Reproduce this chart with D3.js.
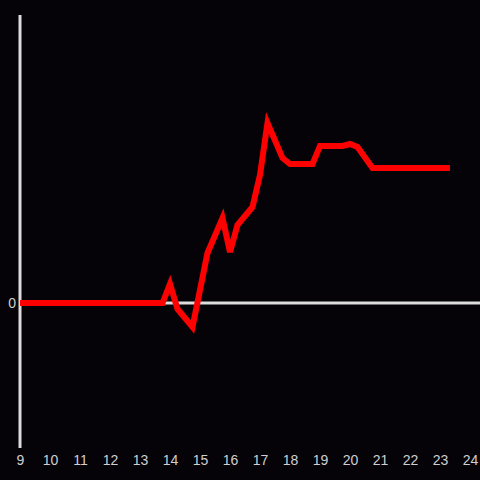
<!DOCTYPE html>
<html>
<head>
<meta charset="utf-8">
<script src="https://cdn.jsdelivr.net/npm/d3@7"></script>
<style>
  html, body { margin: 0; padding: 0; background: #050308; }
  svg { display: block; }
</style>
</head>
<body>
<svg id="chart" width="480" height="480"></svg>
<script>
// hours of day and the measured value at each one
const hours = [9, 13.75, 14, 14.25, 14.75, 15.25, 15.75, 16, 16.25, 16.75, 17, 17.25, 17.75, 18, 18.75, 19, 19.75, 20, 20.25, 20.75, 23.33]
const values = [0, 0, 19, -6, -24, 50, 85, 51, 78, 96, 128, 180, 145, 139, 139, 157, 157, 159, 156, 135, 135]
const xTicks = [9, 10, 11, 12, 13, 14, 15, 16, 17, 18, 19, 20, 21, 22, 23, 24]
const yTicks = [0]

const width = 480,
  height = 480,
  axisColor = '#dcdcdc',
  labelColor = '#cfcfcf'

const svg = d3.select('#chart')

const x = d3.scaleLinear().domain([9, 24]).range([20, 470])
const y = d3.scaleLinear().domain([-145, 288]).range([448, 15])

svg.append('rect')
  .attr('width', width)
  .attr('height', height)
  .attr('fill', '#050308')

// y axis line
svg.append('line')
  .attr('x1', x(9)).attr('x2', x(9))
  .attr('y1', y.range()[1]).attr('y2', y.range()[0])
  .attr('stroke', axisColor)
  .attr('stroke-width', 3)

// zero baseline
svg.append('line')
  .attr('x1', x(9)).attr('x2', width)
  .attr('y1', y(0)).attr('y2', y(0))
  .attr('stroke', axisColor)
  .attr('stroke-width', 3)

const xAxis = d3.axisBottom(x).tickValues(xTicks).tickSize(0).tickFormat(d3.format('d'))
const gx = svg.append('g')
  .attr('transform', `translate(0,${y.range()[0] + 4})`)
  .call(xAxis)
gx.select('.domain').remove()
gx.selectAll('text')
  .attr('fill', labelColor)
  .attr('font-family', 'Liberation Sans, Arial, sans-serif')
  .attr('font-size', 14)

const yAxis = d3.axisLeft(y).tickValues(yTicks).tickSize(0).tickPadding(4)
const gy = svg.append('g')
  .attr('transform', `translate(${x(9)},0)`)
  .call(yAxis)
gy.select('.domain').remove()
gy.selectAll('text')
  .attr('fill', labelColor)
  .attr('font-family', 'Liberation Sans, Arial, sans-serif')
  .attr('font-size', 14)

const line = d3.line()
  .x((d, i) => x(hours[i]))
  .y(d => y(d))

svg.append('path')
  .datum(values)
  .attr('d', line)
  .attr('fill', 'none')
  .attr('stroke', '#ff0000')
  .attr('stroke-width', 6)
</script>
</body>
</html>
